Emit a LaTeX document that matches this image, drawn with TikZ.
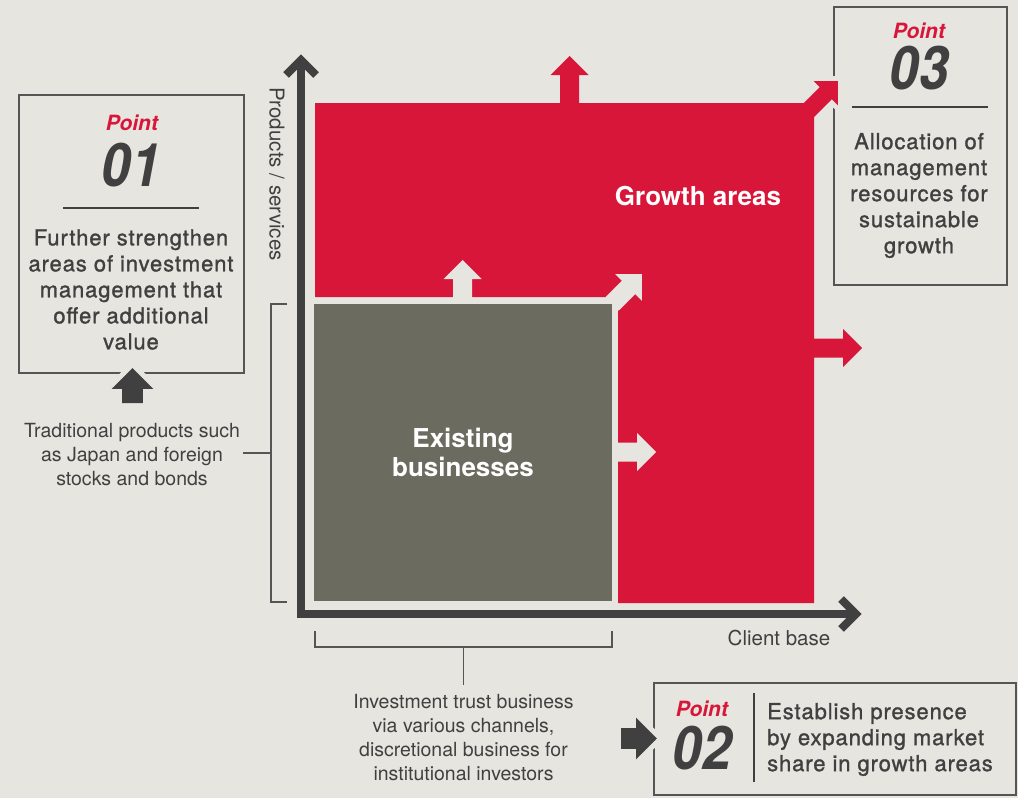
\documentclass[tikz,border=0pt]{standalone}
\usepackage{fontspec}
\setmainfont{TeX Gyre Heros}
\newfontfamily\medfont[FakeBold=1.2,LetterSpace=4]{TeX Gyre Heros}
\newfontfamily\numfont[FakeStretch=0.88]{TeX Gyre Heros}
\definecolor{bg}{HTML}{E6E5DF}
\definecolor{brand}{HTML}{D8163A}
\definecolor{stone}{HTML}{6C6B5F}
\definecolor{ink}{HTML}{404040}
\definecolor{frame}{HTML}{555555}

\begin{document}
\begin{tikzpicture}[x=1pt,y=-1pt,
  pointbox/.style={draw=frame, line width=2, inner sep=0, anchor=north west},
  pointlabel/.style={inner sep=0, text=brand, font=\bfseries\itshape\fontsize{21}{21}\selectfont},
  pointnum/.style={inner sep=0, text=ink, font=\numfont\bfseries\itshape\fontsize{60}{60}\selectfont},
  pointtext/.style={inner sep=0, text=ink, font=\medfont\fontsize{22}{26}\selectfont},
  note/.style={inner sep=0, text=ink, align=center, font=\fontsize{19.5}{24}\selectfont},
  axislabel/.style={inner sep=0, text=ink, font=\fontsize{20.5}{20.5}\selectfont},
  areatext/.style={inner sep=0, text=white, align=center, font=\bfseries\fontsize{26}{29}\selectfont},
  bracket/.style={draw=frame, line width=1.5},
  rulepath/.style={draw=ink, line width=1.5},
  axis/.style={draw=ink, line width=8, miter limit=10},
  halo/.style={draw=bg, fill=bg, line width=10, line join=round},
  pics/blockarrow/.style={code={
    \path[pic actions] (0,-9.5) -- (#1-19,-9.5) -- (#1-19,-19) -- (#1,0)
      -- (#1-19,19) -- (#1-19,9.5) -- (0,9.5) -- cycle;}}
]
\useasboundingbox (0,0) rectangle (1018,798);
\fill[bg] (0,0) rectangle (1018,798);

% ---- Point boxes ----
\node[pointbox, minimum width=225, minimum height=278] (p1) at (18,94) {};
\node[pointlabel] (p1label) at (132,123) {Point};
\node[pointnum] (p1num) at (131,165) {01};
\draw[rulepath] (63,208) -- (199,208);
\node[pointtext, align=center] (p1text) at (131,289.5)
  {Further strengthen\\areas of investment\\management that\\offer additional\\value};

\node[pointbox, minimum width=173, minimum height=278] (p3) at (833,6) {};
\node[pointlabel] (p3label) at (919,31) {Point};
\node[pointnum] (p3num) at (919,68) {03};
\draw[rulepath] (852,107) -- (988,107);
\node[pointtext, align=center] (p3text) at (919,195.5)
  {Allocation of\\management\\resources for\\sustainable\\growth};

\node[pointbox, minimum width=362, minimum height=112] (p2) at (653,682) {};
\node[pointlabel] (p2label) at (702,709) {Point};
\node[pointnum] (p2num) at (702,748) {02};
\draw[rulepath] (754,693) -- (754,782);
\node[pointtext, align=left, anchor=west] (p2text) at (767,739.5)
  {Establish presence\\by expanding market\\share in growth areas};

% ---- brackets and notes ----
\draw[bracket] (287,304) -- (271,304) -- (271,602) -- (287,602);
\coordinate (lb) at (271,453);
\coordinate (lbend) at (243,453);
\node[note] (trad) at (132,455) {Traditional products such\\as Japan and foreign\\stocks and bonds};
\draw[bracket] (lb) -- (lbend);

\draw[bracket] (315,631) -- (315,647) -- (612,647) -- (612,631);
\coordinate (bb) at (463.5,647);
\coordinate (bbend) at (463.5,685);
\node[note] (invest) at (463.5,738) {Investment trust business\\via various channels,\\discretional business for\\institutional investors};
\draw[bracket] (bb) -- (bbend);

% ---- axis labels ----
\node[axislabel] (xlabel) at (779,638) {Client base};
\node[axislabel, rotate=-90] (ylabel) at (277,174) {Products / services};

% ---- halos cutting the box frames, dark arrows ----
\pic[halo, rotate=45, scale=0.9] at (808,111) {blockarrow=47};
\pic[halo, rotate=90, scale=1.1] at (132.5,403) {blockarrow=31.8};
\pic[halo, scale=1.1] at (621,738.5) {blockarrow=32.7};
\pic[fill=ink, rotate=90, scale=1.1] at (132.5,403) {blockarrow=31.8};
\pic[fill=ink, scale=1.1] at (621,738.5) {blockarrow=32.7};

% ---- growth area ----
\fill[brand] (315,103) -- (814,103) -- (814,603) -- (618,603) -- (618,297) -- (315,297) -- cycle;
\pic[fill=brand, rotate=90] at (569.5,110) {blockarrow=54};
\pic[fill=brand] at (806,348) {blockarrow=56};
\pic[fill=brand, rotate=45, scale=0.9] at (808,111) {blockarrow=47};

% ---- light arrows out of the existing area ----
\pic[fill=bg, rotate=90] at (462.5,300) {blockarrow=40};
\pic[fill=bg, rotate=45] at (612,304) {blockarrow=42.4};
\pic[fill=bg] at (615,452) {blockarrow=41};

% ---- existing businesses ----
\node[fill=stone, inner sep=0, minimum width=298, minimum height=297, anchor=north west] (existing) at (314,304) {};
\node[areatext] (existingtext) at (463,452.5) {Existing\\businesses};
\node[areatext] (growthtext) at (698,196) {Growth areas};

% ---- axes ----
\draw[axis] (301,60) -- (301,614) -- (856,614);
\draw[axis] (286,75) -- (301,60) -- (316,75);
\draw[axis] (841,599) -- (856,614) -- (841,629);
\end{tikzpicture}
\end{document}
